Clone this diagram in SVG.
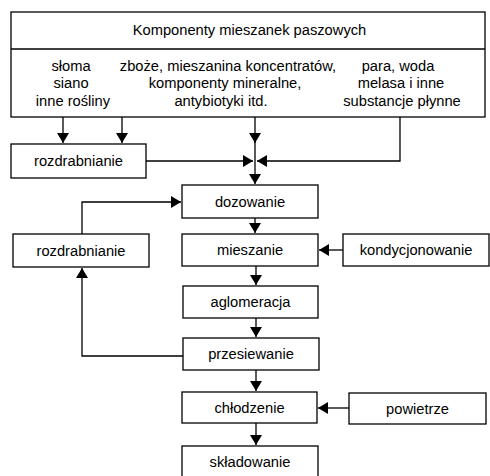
<svg xmlns="http://www.w3.org/2000/svg" width="490" height="476" viewBox="0 0 490 476">
<style>
.box{fill:#fff;stroke:#000;stroke-width:1.3}
.ln{fill:none;stroke:#000;stroke-width:1.3}
text{font-family:"Liberation Sans",Arial,sans-serif;font-size:14.7px;fill:#000;text-anchor:middle}
</style>
<defs>
<marker id="ah" viewBox="0 0 10 12" refX="10" refY="6" markerWidth="10" markerHeight="12" markerUnits="userSpaceOnUse" orient="auto">
<path d="M0,0 L10,6 L0,12 Z" fill="#000"/>
</marker>
</defs>
<rect width="490" height="476" fill="#fff"/>
<g id="connectors">
<line class="ln" x1="63" y1="117" x2="63" y2="143" marker-end="url(#ah)"/>
<line class="ln" x1="122" y1="117" x2="122" y2="143" marker-end="url(#ah)"/>
<line class="ln" x1="255" y1="117" x2="255" y2="143" marker-end="url(#ah)"/>
<line class="ln" x1="255" y1="140" x2="255" y2="184" marker-end="url(#ah)"/>
<line class="ln" x1="146" y1="161" x2="253" y2="161" marker-end="url(#ah)"/>
<polyline class="ln" points="400,117 400,161 257,161" marker-end="url(#ah)"/>
<line class="ln" x1="255" y1="218" x2="255" y2="233" marker-end="url(#ah)"/>
<polyline class="ln" points="82,234 82,202 181,202" marker-end="url(#ah)"/>
<line class="ln" x1="343" y1="250" x2="319" y2="250" marker-end="url(#ah)"/>
<line class="ln" x1="256" y1="266" x2="256" y2="285" marker-end="url(#ah)"/>
<line class="ln" x1="256" y1="318" x2="256" y2="337" marker-end="url(#ah)"/>
<polyline class="ln" points="183,356 82,356 82,268" marker-end="url(#ah)"/>
<line class="ln" x1="256" y1="370" x2="256" y2="391" marker-end="url(#ah)"/>
<line class="ln" x1="349" y1="408" x2="318" y2="408" marker-end="url(#ah)"/>
<line class="ln" x1="256" y1="423" x2="256" y2="445" marker-end="url(#ah)"/>
</g>
<g id="komponenty">
<rect class="box" x="11" y="12" width="474" height="105"/>
<line class="ln" x1="11" y1="49" x2="485" y2="49"/>
<text x="249.5" y="35">Komponenty mieszanek paszowych</text>
<text x="71" y="71">słoma</text>
<text x="71" y="88">siano</text>
<text x="73" y="106">inne rośliny</text>
<text x="228" y="71">zboże, mieszanina koncentratów,</text>
<text x="225" y="88">komponenty mineralne,</text>
<text x="221" y="106">antybiotyki itd.</text>
<text x="398" y="71">para, woda</text>
<text x="401" y="88">melasa i inne</text>
<text x="402" y="106">substancje płynne</text>
</g>
<g id="rozdrabnianie1">
<rect class="box" x="11" y="144" width="135" height="34"/>
<text x="78.5" y="166">rozdrabnianie</text>
</g>
<g id="dozowanie">
<rect class="box" x="182" y="185" width="136" height="33"/>
<text x="250" y="207">dozowanie</text>
</g>
<g id="rozdrabnianie2">
<rect class="box" x="13" y="234" width="136" height="33"/>
<text x="81" y="256">rozdrabnianie</text>
</g>
<g id="mieszanie">
<rect class="box" x="182" y="234" width="136" height="32"/>
<text x="250" y="255">mieszanie</text>
</g>
<g id="kondycjonowanie">
<rect class="box" x="343" y="234" width="146" height="32"/>
<text x="416" y="255">kondycjonowanie</text>
</g>
<g id="aglomeracja">
<rect class="box" x="183" y="286" width="135" height="32"/>
<text x="250.5" y="307">aglomeracja</text>
</g>
<g id="przesiewanie">
<rect class="box" x="183" y="338" width="136" height="32"/>
<text x="251" y="359">przesiewanie</text>
</g>
<g id="chlodzenie">
<rect class="box" x="182" y="392" width="135" height="31"/>
<text x="249.5" y="413">chłodzenie</text>
</g>
<g id="powietrze">
<rect class="box" x="349" y="393" width="137" height="31"/>
<text x="417.5" y="414">powietrze</text>
</g>
<g id="skladowanie">
<rect class="box" x="182" y="446" width="136" height="34"/>
<text x="250" y="467">składowanie</text>
</g>
</svg>
